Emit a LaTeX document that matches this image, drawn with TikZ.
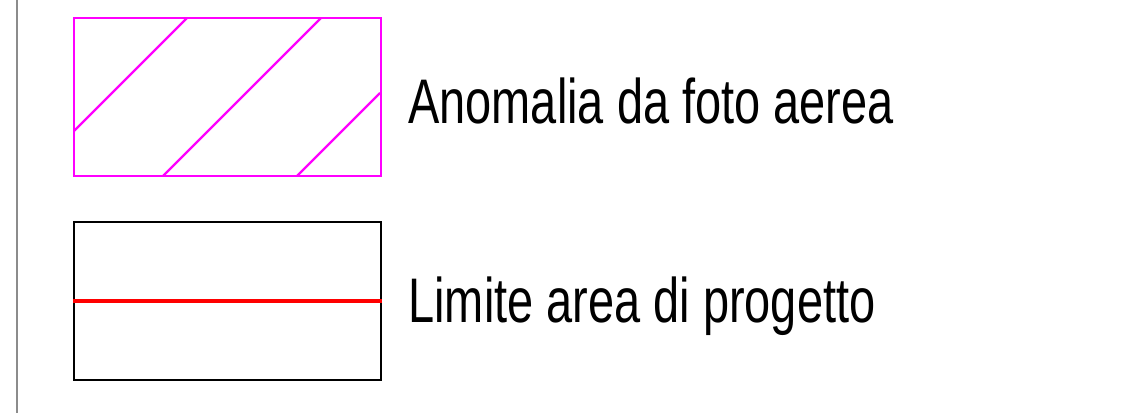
\documentclass[tikz,border=0pt]{standalone}
\usepackage{fontspec}
\newfontfamily\legendfont[FakeStretch=0.745]{Liberation Sans}
\usetikzlibrary{positioning}
\definecolor{anommagenta}{RGB}{255,0,255}

\begin{document}
\begin{tikzpicture}[
        x=0.5pt, y=-0.5pt,
        frame/.style={draw=black!45, line width=0.6pt},
        keybox/.style={draw, line width=1.1pt, minimum width=153.5pt, minimum height=79pt, inner sep=0pt},
        hatch/.style={anommagenta, line width=1.1pt},
        boundary/.style={red, line width=1.7pt},
        legendtext/.style={font=\fontsize{31.5}{31.5}\legendfont, anchor=base west, inner sep=0pt}
    ]
    \useasboundingbox (0,0) rectangle (1125,413);

    % Left margin rule
    \draw[frame] (17,0) -- (17,413);

    % Anomaly from aerial photo
    \node[keybox, anommagenta] (anombox) at (227.5,97) {};
    \draw[hatch] (74,131) -- (187,18);
    \draw[hatch] (163,176) -- (321,18);
    \draw[hatch] (297,176) -- (380,93);
    \node[legendtext] (anomtext) at (408,123) {Anomalia da foto aerea};

    % Project area limit
    \node[keybox, black] (limitbox) at (227.5,301) {};
    \draw[boundary] (limitbox.west) -- (limitbox.east);
    \node[legendtext] (limittext) at (408,322) {Limite area di progetto};

\end{tikzpicture}
\end{document}
